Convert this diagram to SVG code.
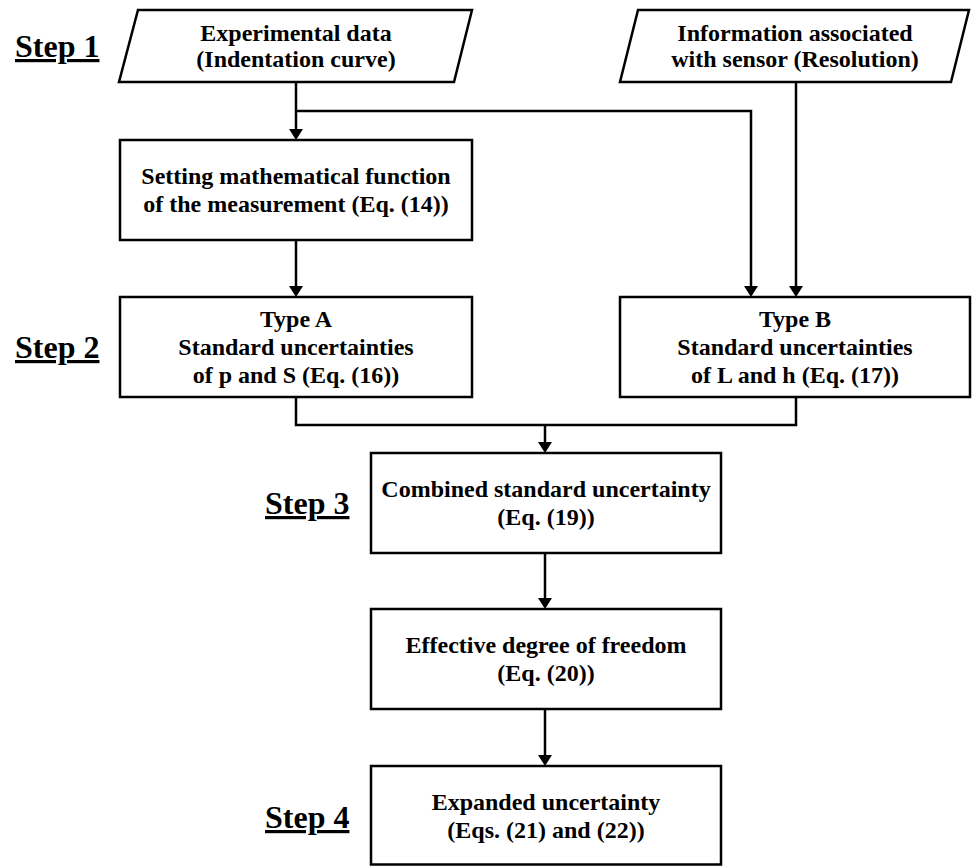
<svg xmlns="http://www.w3.org/2000/svg" width="972" height="866" viewBox="0 0 972 866">
<defs>
<style>
.shape{fill:#fff;stroke:#000;stroke-width:2.5}
.t{font-family:"Liberation Serif","Times New Roman",serif;font-weight:bold;font-size:24px;text-anchor:middle;fill:#000}
.step{font-family:"Liberation Serif","Times New Roman",serif;font-weight:bold;font-size:32px;fill:#000;text-decoration:underline}
.c{fill:none;stroke:#000;stroke-width:2.5}
</style>
<marker id="ah" markerUnits="userSpaceOnUse" markerWidth="11" markerHeight="14" viewBox="0 0 11 14" refX="8" refY="7" orient="auto">
<path d="M0,0 L11,7 L0,14 z" fill="#000"/>
</marker>
</defs>
<rect width="972" height="866" fill="#fff"/>
<g id="labels">
<text class="step" x="15" y="57">Step 1</text>
<text class="step" x="15" y="358">Step 2</text>
<text class="step" x="265" y="514">Step 3</text>
<text class="step" x="265" y="828">Step 4</text>
</g>
<g id="connectors">
<line class="c" x1="296" y1="82" x2="296" y2="137" marker-end="url(#ah)"/>
<polyline class="c" points="296,111 751,111 751,294" marker-end="url(#ah)"/>
<line class="c" x1="796" y1="82" x2="796" y2="294" marker-end="url(#ah)"/>
<line class="c" x1="296" y1="240" x2="296" y2="294" marker-end="url(#ah)"/>
<polyline class="c" points="296,397 296,425 796,425 796,397"/>
<line class="c" x1="545" y1="425" x2="545" y2="450" marker-end="url(#ah)"/>
<line class="c" x1="545" y1="553" x2="545" y2="606" marker-end="url(#ah)"/>
<line class="c" x1="545" y1="709" x2="545" y2="763" marker-end="url(#ah)"/>
</g>
<g id="n-exp">
<polygon class="shape" points="138,10 472,10 454,82 119,82"/>
<text class="t" x="296" y="41">Experimental data</text>
<text class="t" x="296" y="67">(Indentation curve)</text>
</g>
<g id="n-info">
<polygon class="shape" points="638,10 969,10 951,82 620,82"/>
<text class="t" x="795" y="41">Information associated</text>
<text class="t" x="795" y="67">with sensor (Resolution)</text>
</g>
<g id="n-func">
<rect class="shape" x="120" y="140" width="352" height="100"/>
<text class="t" x="296" y="184">Setting mathematical function</text>
<text class="t" x="296" y="212">of the measurement (Eq. (14))</text>
</g>
<g id="n-typeA">
<rect class="shape" x="120" y="297" width="352" height="100"/>
<text class="t" x="296" y="327">Type A</text>
<text class="t" x="296" y="355">Standard uncertainties</text>
<text class="t" x="296" y="383">of p and S (Eq. (16))</text>
</g>
<g id="n-typeB">
<rect class="shape" x="620" y="297" width="350" height="100"/>
<text class="t" x="795" y="327">Type B</text>
<text class="t" x="795" y="355">Standard uncertainties</text>
<text class="t" x="795" y="383">of L and h (Eq. (17))</text>
</g>
<g id="n-combined">
<rect class="shape" x="371" y="453" width="350" height="100"/>
<text class="t" x="546" y="497">Combined standard uncertainty</text>
<text class="t" x="546" y="525">(Eq. (19))</text>
</g>
<g id="n-dof">
<rect class="shape" x="371" y="609" width="350" height="100"/>
<text class="t" x="546" y="653">Effective degree of freedom</text>
<text class="t" x="546" y="681">(Eq. (20))</text>
</g>
<g id="n-expanded">
<rect class="shape" x="371" y="766" width="350" height="98.5"/>
<text class="t" x="546" y="810">Expanded uncertainty</text>
<text class="t" x="546" y="838">(Eqs. (21) and (22))</text>
</g>
</svg>
